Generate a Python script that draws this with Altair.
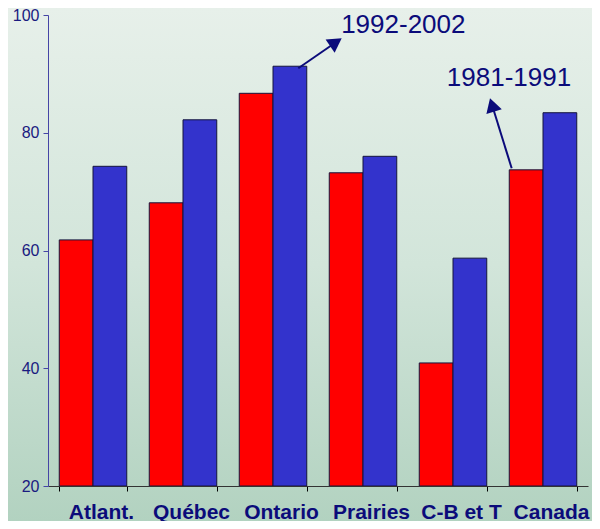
import altair as alt
import pandas as pd

regions = ["Atlant.", "Québec", "Ontario", "Prairies", "C-B et T", "Canada"]
periods = ["1981-1991", "1992-2002"]
values_1981 = [61.8, 68.1, 86.7, 73.2, 40.9, 73.7]
values_1992 = [74.3, 82.2, 91.3, 76.0, 58.7, 83.4]
bar_colors = ["#ff0000", "#3333cc"]
y_ticks = [20, 40, 60, 80, 100]

# annotation texts and arrows (x in category units 0..6, y in data units)
ann_labels = ["1992-2002", "1981-1991"]
ann_x = [3.948, 5.122]
ann_y = [98.3, 89.3]
arrow_x1 = [2.781, 5.152]
arrow_y1 = [90.95, 73.96]
arrow_x2 = [3.199, 4.934]
arrow_y2 = [95.38, 84.71]
arrow_angle = [56, 343]

FONT = "Liberation Sans"
NAVY = "#0b0b7a"

rows = []
for i, r in enumerate(regions):
    rows.append({"region": r, "period": periods[0], "value": values_1981[i]})
    rows.append({"region": r, "period": periods[1], "value": values_1992[i]})
df = pd.DataFrame(rows)

ann_df = pd.DataFrame({"label": ann_labels, "x": ann_x, "y": ann_y})
arr_df = pd.DataFrame({"x1": arrow_x1, "y1": arrow_y1, "x2": arrow_x2,
                       "y2": arrow_y2, "angle": arrow_angle})

bg = alt.Chart(pd.DataFrame({"k": [0]})).mark_rect(
    color=alt.LinearGradient(
        gradient="linear",
        stops=[alt.GradientStop(color="#e7f0ea", offset=0),
               alt.GradientStop(color="#d2e5da", offset=0.5),
               alt.GradientStop(color="#b2d2c0", offset=1)],
        x1=0, x2=0, y1=0, y2=1)
).encode(x=alt.value(-40), x2=alt.value(544), y=alt.value(-7), y2=alt.value(506))

yscale = alt.Scale(domain=[20, 100], nice=False, zero=False)

bars = alt.Chart(df).mark_bar(stroke="#14143c", strokeWidth=1).encode(
    x=alt.X("region:N", sort=regions,
            scale=alt.Scale(paddingInner=0.25, paddingOuter=0.125),
            axis=alt.Axis(orient="bottom", title=None, labelAngle=0, labelFont=FONT,
                          labelFontSize=21, labelFontWeight="bold", labelColor=NAVY,
                          tickBand="extent", tickColor="#000000", tickSize=5,
                          domainColor="#333333", labelPadding=10, labelOffset=8,
                          zindex=2)),
    xOffset=alt.XOffset("period:N", sort=periods,
                        scale=alt.Scale(paddingInner=0, paddingOuter=0)),
    y=alt.Y("value:Q", scale=yscale,
            axis=alt.Axis(orient="left", values=y_ticks, title=None, grid=False,
                          labelFont=FONT, labelFontSize=16, labelColor="#1a1a80",
                          tickSize=5, tickColor="#4545a5", domainColor="#4545a5",
                          labelPadding=4, zindex=2)),
    y2=alt.datum(20),
    color=alt.Color("period:N", sort=periods,
                    scale=alt.Scale(domain=periods, range=bar_colors), legend=None),
)

xq = alt.Scale(domain=[0, 6], nice=False, zero=False)

texts = alt.Chart(ann_df).mark_text(
    font=FONT, fontSize=26, color=NAVY, align="center", baseline="middle"
).encode(
    x=alt.X("x:Q", scale=xq, axis=None),
    y=alt.Y("y:Q", scale=yscale, axis=None),
    text="label:N",
)

rules = alt.Chart(arr_df).mark_rule(color=NAVY, strokeWidth=2).encode(
    x=alt.X("x1:Q", scale=xq, axis=None),
    y=alt.Y("y1:Q", scale=yscale, axis=None),
    x2="x2:Q",
    y2="y2:Q",
)

heads = alt.Chart(arr_df).mark_point(
    shape="triangle-up", filled=True, size=260, color=NAVY, opacity=1
).encode(
    x=alt.X("x2:Q", scale=xq, axis=None),
    y=alt.Y("y2:Q", scale=yscale, axis=None),
    angle=alt.Angle("angle:Q", scale=None),
)

chart = alt.layer(bg, bars, texts, rules, heads).resolve_scale(
    x="independent", y="independent"
).properties(
    width=540, height=471,
    autosize=alt.AutoSizeParams(type="none"),
    padding={"left": 40, "top": 7, "right": 4, "bottom": 35},
).configure_view(stroke="transparent").configure(background="#d2e5da")

chart.save("out.html", embed_options={"renderer": "svg", "actions": False})
